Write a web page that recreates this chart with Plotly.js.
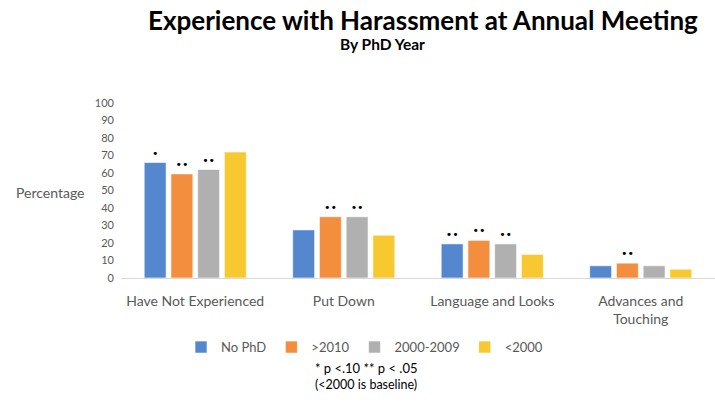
<!DOCTYPE html>
<html>
<head>
<meta charset="utf-8">
<script src="https://cdn.plot.ly/plotly-3.0.1.min.js"></script>
<style>html,body{margin:0;padding:0;background:#fff;}#chart{width:715px;height:402px;}</style>
</head>
<body>
<div id="chart"></div>
<script>
const categories = ["Have Not Experienced", "Put Down", "Language and Looks", "Advances and<br>Touching"];
const seriesNames = ["No PhD", ">2010", "2000-2009", "<2000"];
const noPhD = [66, 27.5, 19.5, 7];
const after2010 = [59.5, 35, 21.5, 8.5];
const y2000to2009 = [62, 35, 19.5, 7];
const before2000 = [72, 24.5, 13.5, 5];
const sigNoPhD = ["•", "", "••", ""];
const sigAfter2010 = ["••", "••", "••", "••"];
const sig2000to2009 = ["••", "••", "••", ""];
const sigBefore2000 = ["", "", "", ""];
const yTicks = [0, 10, 20, 30, 40, 50, 60, 70, 80, 90, 100];

const colors = ["#5587CF", "#F28E3E", "#B0B0B0", "#F8C831"];
const values = [noPhD, after2010, y2000to2009, before2000];
const sigs = [sigNoPhD, sigAfter2010, sig2000to2009, sigBefore2000];

const traces = seriesNames.map((n, i) => ({
  type: "bar",
  name: n,
  x: categories,
  y: values[i],
  text: sigs[i],
  textposition: "outside",
  cliponaxis: false,
  textfont: {family: "DejaVu Sans", size: 11, color: "#000"},
  marker: {color: colors[i], line: {color: "rgba(255,255,255,0.6)", width: 1}},
  hoverinfo: "skip"
}));

const layout = {
  width: 715, height: 402,
  margin: {l: 121, r: 0, t: 103, b: 124},
  paper_bgcolor: "#fff", plot_bgcolor: "#fff",
  font: {family: "Lato, 'Open Sans', sans-serif", color: "#595959"},
  bargap: 0.28, bargroupgap: 0.18,
  showlegend: true,
  legend: {orientation: "h", x: 0.41, xanchor: "center", y: -0.395, yanchor: "middle",
           font: {size: 13, color: "#595959"}, itemwidth: 30, traceorder: "normal"},
  xaxis: {
    showgrid: false, showline: true, linecolor: "#D9D9D9", linewidth: 1,
    ticks: "", tickfont: {size: 14, color: "#595959"}, ticklabelstandoff: 10, fixedrange: true
  },
  yaxis: {
    range: [0, 100], tickvals: yTicks, ticktext: yTicks.map(String),
    showgrid: false, zeroline: false, showline: false, ticks: "",
    tickfont: {size: 11, color: "#595959"}, ticklabelstandoff: 6, fixedrange: true
  },
  annotations: [
    {text: "<b>Experience with Harassment at Annual Meeting</b>", xref: "paper", yref: "paper",
     x: 0.5076, y: 1.0, yshift: 83, showarrow: false, xanchor: "center", yanchor: "middle",
     font: {size: 26, color: "#000", family: "Lato, sans-serif"}},
    {text: "<b>By PhD Year</b>", xref: "paper", yref: "paper",
     x: 0.441, y: 1.0, yshift: 59, showarrow: false, xanchor: "center", yanchor: "middle",
     font: {size: 15.5, color: "#000", family: "Lato, sans-serif"}},
    {text: "Percentage", xref: "paper", yref: "paper", x: 0, xshift: -71, y: 0.49,
     showarrow: false, xanchor: "center", yanchor: "middle", font: {size: 14, color: "#595959"}},
    {text: "* p <.10 ** p < .05", xref: "paper", yref: "paper", x: 0.413, y: 0, yshift: -90,
     showarrow: false, xanchor: "center", yanchor: "middle", font: {size: 13, color: "#000"}},
    {text: "(<2000 is baseline)", xref: "paper", yref: "paper", x: 0.413, y: 0, yshift: -106,
     showarrow: false, xanchor: "center", yanchor: "middle", font: {size: 12.5, color: "#000"}}
  ]
};

Plotly.newPlot("chart", traces, layout, {displayModeBar: false, staticPlot: true});
</script>
</body>
</html>
